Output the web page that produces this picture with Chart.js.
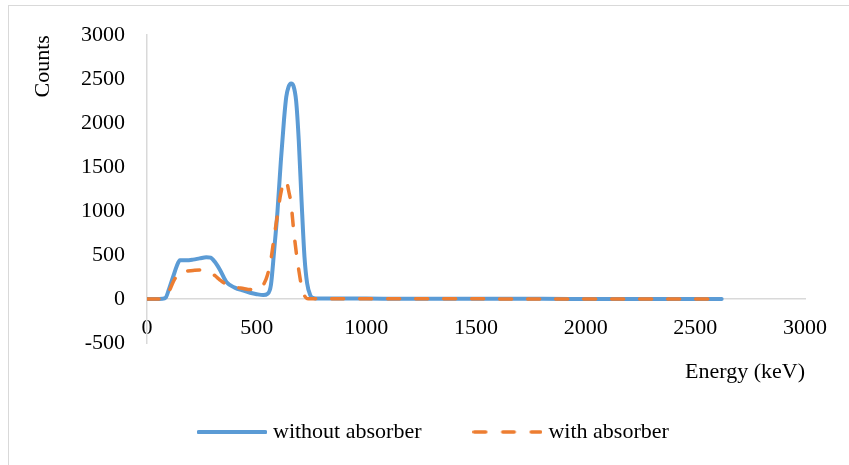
<!DOCTYPE html>
<html><head><meta charset="utf-8">
<script src="https://cdn.jsdelivr.net/npm/chart.js@4.4.0/dist/chart.umd.min.js"></script>
<style>
html,body{margin:0;padding:0;background:#fff;overflow:hidden;width:849px;height:465px;}
#frame{position:absolute;left:8px;top:5px;width:900px;height:520px;border:1.5px solid #d9d9d9;box-sizing:border-box;}
#wrap{position:absolute;left:0;top:0;width:849px;height:465px;}
</style></head><body>
<div id="frame"></div>
<div id="wrap"><canvas id="c"></canvas></div>
<script>
// Energy (keV) sample points
const energies = [0, 40, 70, 85, 100, 120, 135, 150, 180, 210, 240, 270, 290, 310, 333, 363, 400, 440, 470, 500, 530, 550, 565, 580, 595, 610, 625, 635, 645, 657, 668, 680, 692, 705, 718, 730, 745, 760, 780, 850, 1000, 1200, 1330, 1500, 1800, 2100, 2400, 2620];
// Counts without absorber
const countsWithout = [0, 0, 2, 15, 110, 260, 370, 440, 440, 448, 462, 475, 470, 420, 330, 190, 130, 95, 72, 55, 45, 60, 160, 560, 1000, 1560, 2050, 2300, 2410, 2450, 2420, 2250, 1800, 1100, 480, 180, 40, 10, 5, 6, 5, 3, 4, 2, 2, 1, 1, 1];
// Counts with absorber
const countsWith = [0, 0, 3, 20, 85, 197, 260, 305, 318, 325, 330, 322, 300, 265, 216, 165, 135, 120, 108, 108, 160, 280, 450, 710, 960, 1200, 1340, 1345, 1240, 1080, 800, 540, 330, 140, 40, 5, 2, 2, 2, 3, 3, 2, 2, 2, 1, 1, 1, 1];
const seriesNames = ['without absorber', 'with absorber'];
const xRange = { min: 0, max: 3000, step: 500 };
const yRange = { min: -500, max: 3000, step: 500 };
const axisTitles = { x: 'Energy (keV)', y: 'Counts' };

const FONT = "'Liberation Serif', 'Times New Roman', serif";
Chart.defaults.font.family = FONT;
Chart.defaults.font.size = 22;
Chart.defaults.color = '#000';

const BLUE = '#5B9BD5';
const ORANGE = '#ED7D31';

// legend line samples (70 px wide)
function legendSample(color, width, dash) {
  const cv = document.createElement('canvas');
  cv.width = 70; cv.height = 8;
  const g = cv.getContext('2d');
  g.strokeStyle = color; g.lineWidth = width; g.lineCap = 'round';
  if (dash) g.setLineDash(dash);
  g.beginPath(); g.moveTo(1.75, 4); g.lineTo(68.25, 4); g.stroke();
  return cv;
}

const LEGEND_BOX_X = 202;
const LEGEND_CENTER_Y = 432;
const LEGEND_PAD = 56;

const legendShift = {
  id: 'legendShift',
  afterLayout(chart) {
    const l = chart.legend;
    if (!l || !l.lineWidths) return;
    const startX = (l.left + LEGEND_PAD + l.right - l.lineWidths[0]) / 2;
    const dx = LEGEND_BOX_X - startX;
    l.left += dx; l.right += dx;
    l.top = LEGEND_CENTER_Y - LEGEND_PAD - 11;
    l.bottom = chart.height;
  }
};

const toPts = (arr) => energies.map((e, i) => ({ x: e, y: arr[i] }));
const plain = (v) => String(v);

new Chart(document.getElementById('c'), {
  type: 'line',
  data: {
    datasets: [
      {
        label: seriesNames[0],
        data: toPts(countsWithout),
        borderColor: BLUE,
        backgroundColor: BLUE,
        borderWidth: 4,
        pointRadius: 0,
        pointStyle: legendSample(BLUE, 4, null),
        cubicInterpolationMode: 'monotone',
        borderCapStyle: 'round',
        borderJoinStyle: 'round',
        fill: false,
        order: 1
      },
      {
        label: seriesNames[1],
        data: toPts(countsWith),
        borderColor: ORANGE,
        backgroundColor: ORANGE,
        borderWidth: 3.5,
        borderDash: [12, 16],
        borderCapStyle: 'round',
        borderJoinStyle: 'round',
        pointRadius: 0,
        pointStyle: legendSample(ORANGE, 3.5, [11.5, 17]),
        cubicInterpolationMode: 'monotone',
        fill: false,
        order: 0
      }
    ]
  },
  options: {
    responsive: true,
    maintainAspectRatio: false,
    animation: false,
    devicePixelRatio: 1,
    layout: { padding: { left: 0, right: 44, top: 35, bottom: 88 } },
    plugins: {
      tooltip: { enabled: false },
      legend: {
        position: 'bottom',
        maxHeight: 34,
        labels: {
          usePointStyle: true,
          pointStyleWidth: 60,
          padding: LEGEND_PAD,
          font: { size: 22, family: FONT },
          color: '#000',
          sort: (a, b) => a.datasetIndex - b.datasetIndex
        }
      }
    },
    scales: {
      x: {
        type: 'linear',
        position: { y: 0 },
        min: xRange.min,
        max: xRange.max,
        grid: { display: false, drawTicks: false },
        border: { display: true, color: '#d9d9d9', width: 1.5 },
        ticks: { stepSize: xRange.step, padding: 16, font: { size: 22, family: FONT }, color: '#000', maxRotation: 0, autoSkip: false, callback: plain },
        title: { display: true, text: axisTitles.x, align: 'end', padding: { top: 2, bottom: 0 }, font: { size: 22, family: FONT }, color: '#000' }
      },
      y: {
        type: 'linear',
        min: yRange.min,
        max: yRange.max,
        afterFit: (s) => { s.width = 147; },
        grid: { display: false, drawTicks: false },
        border: { display: true, color: '#d9d9d9', width: 1.5 },
        ticks: { stepSize: yRange.step, padding: 22, font: { size: 22, family: FONT }, color: '#000', callback: plain },
        title: { display: true, text: axisTitles.y, align: 'end', padding: { top: 30, bottom: 0 }, font: { size: 22, family: FONT }, color: '#000' }
      }
    }
  },
  plugins: [legendShift]
});
</script>
</body></html>
